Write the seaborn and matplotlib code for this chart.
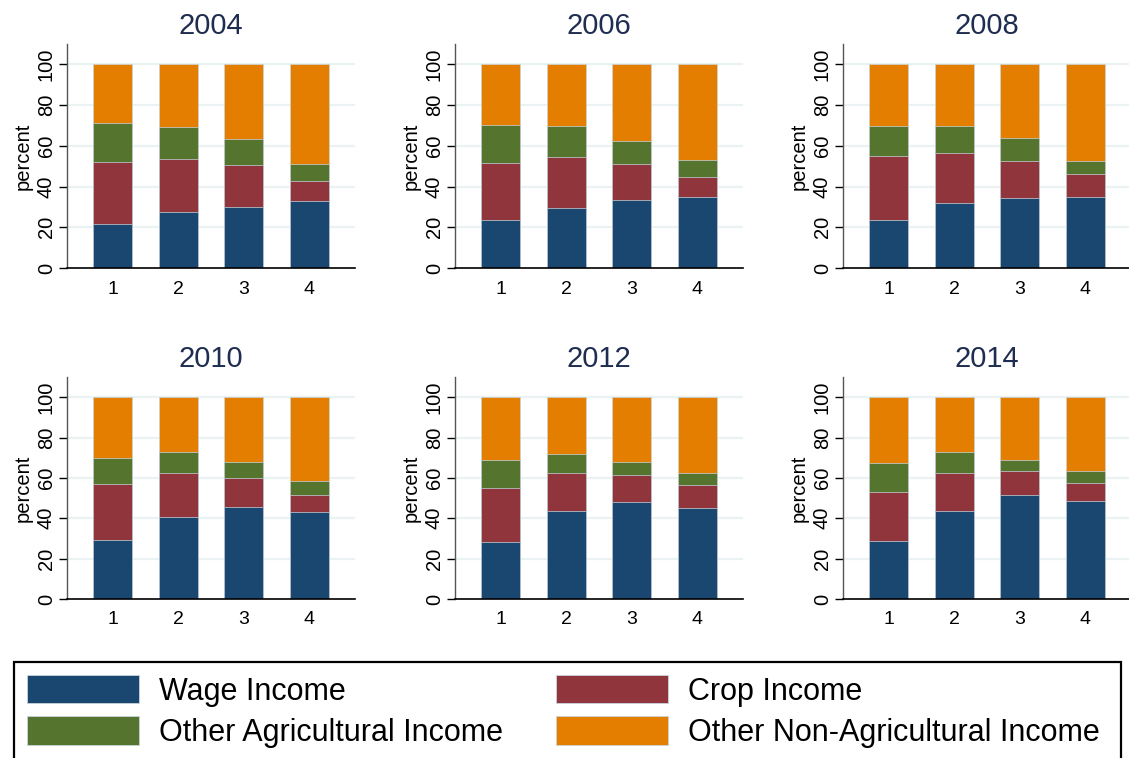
import matplotlib
matplotlib.use("Agg")
import matplotlib.pyplot as plt
from matplotlib.patches import Patch, Rectangle
import numpy as np
import pandas as pd
import seaborn as sns

# Income shares (percent) by quartile group, one list per source and year
years = ["2004", "2006", "2008", "2010", "2012", "2014"]
groups = ["1", "2", "3", "4"]

wage = {
    "2004": [21.7, 27.6, 29.9, 32.8],
    "2006": [23.7, 29.4, 33.4, 34.7],
    "2008": [23.7, 31.8, 34.3, 35.1],
    "2010": [29.1, 40.7, 45.6, 43.3],
    "2012": [28.1, 43.7, 48.1, 45.2],
    "2014": [28.6, 43.7, 51.6, 48.6],
}
crop = {
    "2004": [30.5, 26.1, 20.5, 9.8],
    "2006": [28.0, 25.2, 17.5, 10.2],
    "2008": [31.4, 24.8, 18.4, 10.9],
    "2010": [27.9, 21.5, 14.3, 8.3],
    "2012": [26.9, 18.5, 13.3, 11.1],
    "2014": [24.4, 18.5, 11.6, 8.7],
}
other_ag = {
    "2004": [18.9, 15.5, 13.1, 8.3],
    "2006": [18.4, 15.1, 11.6, 8.3],
    "2008": [14.7, 13.2, 11.2, 6.7],
    "2010": [13.1, 10.4, 7.8, 6.7],
    "2012": [14.1, 9.4, 6.7, 5.9],
    "2014": [14.2, 10.4, 5.9, 5.9],
}
other_nonag = {
    "2004": [28.9, 30.8, 36.5, 49.1],
    "2006": [29.9, 30.3, 37.5, 46.8],
    "2008": [30.2, 30.2, 36.1, 47.3],
    "2010": [29.9, 27.4, 32.3, 41.7],
    "2012": [30.9, 28.4, 31.9, 37.8],
    "2014": [32.8, 27.4, 30.9, 36.8],
}

series_names = ["Wage Income", "Crop Income", "Other Agricultural Income",
                "Other Non-Agricultural Income"]
series_data = [wage, crop, other_ag, other_nonag]
colors = ["#1a476f", "#90353b", "#55752f", "#e37e00"]

sns.set_theme(style="white")
plt.rcParams["font.family"] = ["Liberation Sans", "DejaVu Sans"]
plt.rcParams["text.color"] = "black"
plt.rcParams["xtick.color"] = "black"
plt.rcParams["ytick.color"] = "black"
plt.rcParams["axes.labelcolor"] = "black"

W, H = 1129, 758
fig = plt.figure(figsize=(W / 100, H / 100), dpi=100)

col_left = [67, 455, 843]
row_span = [(44, 268), (377, 599)]
ax_w = 288


def fig_rect(x0, top, w, bottom):
    return [x0 / W, 1 - bottom / H, w / W, (bottom - top) / H]


for i, yr in enumerate(years):
    r, c = divmod(i, 3)
    top, bottom = row_span[r]
    ax = fig.add_axes(fig_rect(col_left[c], top, ax_w, bottom))

    seg = np.array([s[yr] for s in series_data])
    cum = np.cumsum(seg, axis=0)
    ax.set_axisbelow(True)
    for y in [20, 40, 60, 80, 100]:
        ax.axhline(y, color="#eaf2f3", lw=1.6, zorder=0)

    # Stacked bars: draw cumulative totals from the top layer down
    for k in range(3, -1, -1):
        df = pd.DataFrame({"group": groups, "value": cum[k]})
        sns.barplot(data=df, x="group", y="value", order=groups, color=colors[k],
                    saturation=1, width=0.6, errorbar=None, ax=ax,
                    edgecolor="#c9d3dc", linewidth=0.5, zorder=2)

    ax.set_xlim(-0.7, 3.7)
    ax.set_ylim(0, 110)
    ax.set_yticks([0, 20, 40, 60, 80, 100])
    ax.set_yticklabels(["0", "20", "40", "60", "80", "100"], rotation=90,
                       va="center", fontsize=14.5)
    ax.tick_params(axis="y", length=6, width=1, color="black", pad=2, left=True)
    ax.tick_params(axis="x", length=0, pad=9, labelsize=14)
    ax.set_xlabel("")
    ax.set_ylabel("percent", fontsize=14.5, labelpad=3)
    ax.set_title(yr, fontsize=21, color="#1f2d50", pad=7)
    for side in ["top", "right"]:
        ax.spines[side].set_visible(False)
    ax.spines["left"].set_color("#555555")
    ax.spines["left"].set_linewidth(1.0)
    ax.spines["bottom"].set_color("black")
    ax.spines["bottom"].set_linewidth(1.2)

# Legend box along the bottom
fig.patches.append(Rectangle((14 / W, 0 - 10 / H), (1121 - 14) / W, (758 - 662 + 10) / H,
                             transform=fig.transFigure, fill=False,
                             edgecolor="black", lw=1.6))
handles = [Patch(facecolor=col, edgecolor="#c9d3dc", linewidth=0.6) for col in colors]
order = [0, 2, 1, 3]
fig.legend([handles[j] for j in order], [series_names[j] for j in order],
           ncol=2, loc="upper left", bbox_to_anchor=(27 / W, 1 - 675 / H),
           frameon=False, fontsize=22, handlelength=3.66, handleheight=1.05,
           handletextpad=0.65, columnspacing=1.75, labelspacing=0.32,
           borderpad=0, borderaxespad=0)

fig.savefig("out.png", dpi=100)
